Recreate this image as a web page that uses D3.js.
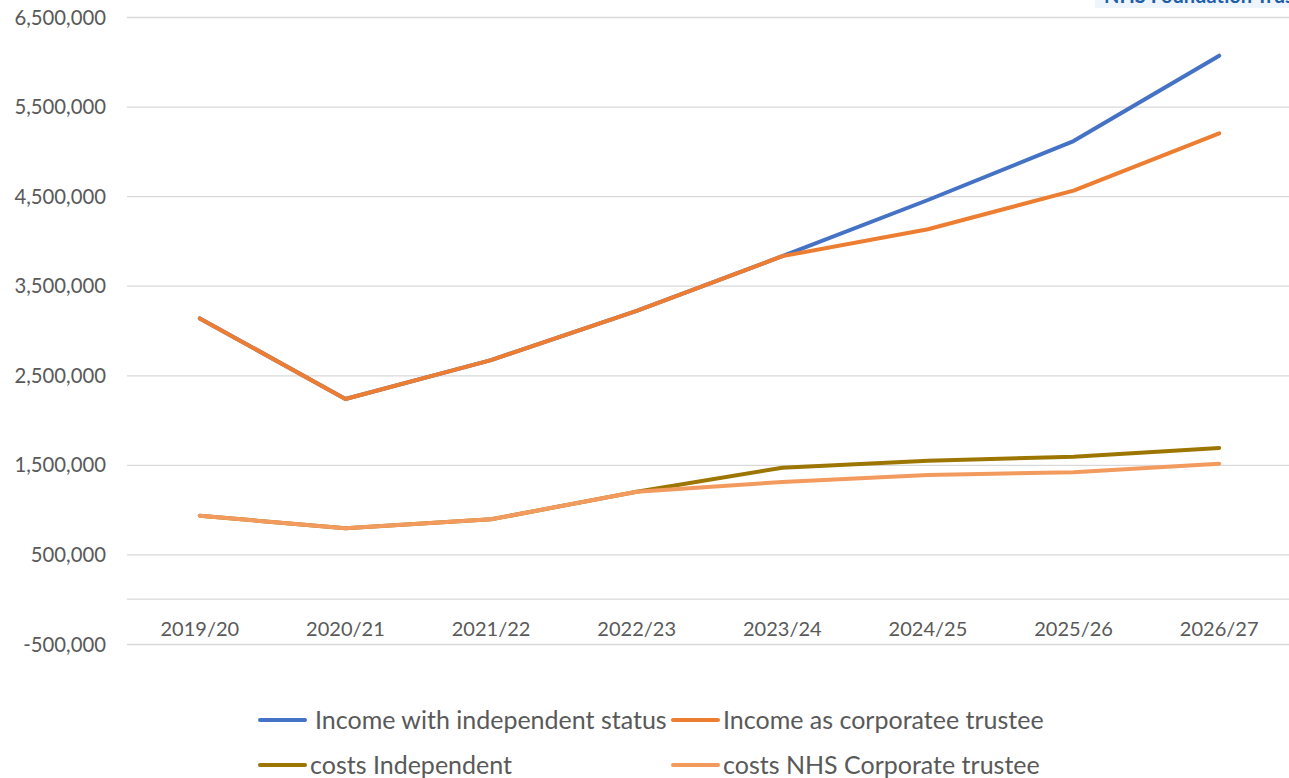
<!DOCTYPE html>
<html>
<head>
<meta charset="utf-8">
<script src="https://cdn.jsdelivr.net/npm/d3@7"></script>
<style>
  body { margin: 0; background: #fff; overflow: hidden; }
  text { font-family: Lato, "Liberation Sans", sans-serif; fill: #595959; }
</style>
</head>
<body>
<svg width="1289" height="778"></svg>
<script>
'use strict';

const years = ['2019/20', '2020/21', '2021/22', '2022/23', '2023/24', '2024/25', '2025/26', '2026/27']
const incomeIndependent = [3135000, 2235000, 2670000, 3220000, 3830000, 4457000, 5115000, 6068000]
const incomeCorporate = [3135000, 2235000, 2670000, 3220000, 3830000, 4130000, 4561000, 5201000]
const costsIndependent = [932000, 791000, 892000, 1200000, 1468000, 1547000, 1591000, 1688000]
const costsCorporate = [932000, 791000, 892000, 1200000, 1309000, 1387000, 1417000, 1513000]
const yTicks = [-500000, 500000, 1500000, 2500000, 3500000, 4500000, 5500000, 6500000]

// drawing order: later series sit on top
const series = [
  { name: 'Income with independent status', values: incomeIndependent, color: '#4472C4' },
  { name: 'Income as corporatee trustee', values: incomeCorporate, color: '#ED7D31' },
  { name: 'costs Independent', values: costsIndependent, color: '#9C7600' },
  { name: 'costs NHS Corporate trustee', values: costsCorporate, color: '#F39A5E' }
]

const svg = d3.select('svg')

const x = d3.scalePoint().domain(years).range([127, 1292]).padding(0.5)
const y = d3.scaleLinear().domain([-500000, 6500000]).range([644, 17])
const fmt = d3.formatLocale({ decimal: '.', thousands: ',', grouping: [3], currency: ['', ''], minus: '-' }).format(',')

// gridlines + labels
const yAxis = d3.axisLeft(y).tickValues(yTicks).tickSize(-(1292 - 127)).tickFormat(fmt)
svg.append('g')
  .attr('transform', 'translate(127,0)')
  .call(yAxis)
  .call(g => g.select('.domain').remove())
  .call(g => g.selectAll('.tick line').attr('stroke', '#d9d9d9').attr('stroke-width', 1.3))
  .call(g => g.selectAll('.tick text').attr('x', -21).attr('dy', '0.35em')
    .style('font-size', '20.3px').style('font-family', 'Lato, sans-serif').attr('fill', '#595959'))

// category axis at zero
svg.append('line')
  .attr('x1', 127).attr('x2', 1292)
  .attr('y1', y(0)).attr('y2', y(0))
  .attr('stroke', '#d9d9d9').attr('stroke-width', 1.3)

svg.append('g').selectAll('text')
  .data(years)
  .enter()
  .append('text')
  .attr('x', d => x(d))
  .attr('y', y(0) + 37)
  .attr('text-anchor', 'middle')
  .style('font-size', '20px')
  .text(d => d)

// lines
const line = d3.line()
  .x((d, i) => x(years[i]))
  .y(d => y(d))

svg.append('g').selectAll('path')
  .data(series)
  .enter()
  .append('path')
  .attr('d', d => line(d.values))
  .attr('fill', 'none')
  .attr('stroke', d => d.color)
  .attr('stroke-width', 4)
  .attr('stroke-linecap', 'round')
  .attr('stroke-linejoin', 'round')

// legend
const legendItems = [
  { s: series[0], lx: 260, tx: 315, ly: 720 },
  { s: series[1], lx: 673, tx: 723, ly: 720 },
  { s: series[2], lx: 260, tx: 310, ly: 765 },
  { s: series[3], lx: 673, tx: 723, ly: 765 }
]
const legend = svg.append('g')
legend.selectAll('line')
  .data(legendItems)
  .enter()
  .append('line')
  .attr('x1', d => d.lx).attr('x2', d => d.lx + 45)
  .attr('y1', d => d.ly).attr('y2', d => d.ly)
  .attr('stroke', d => d.s.color)
  .attr('stroke-width', 4)
  .attr('stroke-linecap', 'round')
legend.selectAll('text')
  .data(legendItems)
  .enter()
  .append('text')
  .attr('x', d => d.tx)
  .attr('y', d => d.ly)
  .attr('dy', '0.35em')
  .style('font-size', '25px')
  .text(d => d.s.name)

// header text of the source slide, clipped at the top edge as in the original
svg.append('rect')
  .attr('x', 1095).attr('y', 0).attr('width', 194).attr('height', 8)
  .attr('fill', '#eef5fc')
svg.append('text')
  .attr('x', 1104).attr('y', 3)
  .style('font-size', '20px')
  .style('font-weight', 'bold')
  .style('fill', '#1F5FA8')
  .text('NHS Foundation Trust')
</script>
</body>
</html>
